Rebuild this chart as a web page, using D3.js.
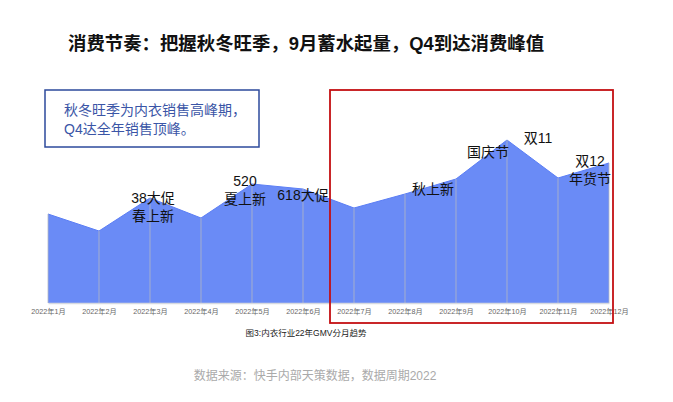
<!DOCTYPE html>
<html>
<head>
<meta charset="utf-8">
<script src="https://cdn.jsdelivr.net/npm/d3@7"></script>
<style>
  body { margin: 0; background: #fff; }
  svg { font-family: "Liberation Sans", "Noto Sans CJK SC", sans-serif; }
</style>
</head>
<body>
<div id="chart"></div>
<script>
// 月份与GMV（相对值，按图估读）
const months = ['2022年1月', '2022年2月', '2022年3月', '2022年4月', '2022年5月', '2022年6月',
                '2022年7月', '2022年8月', '2022年9月', '2022年10月', '2022年11月', '2022年12月']
const gmv = [89, 72, 105, 85, 119, 114, 95, 109, 124, 163, 125, 140]

// 节点标注
const notes = [
  { month: '2022年3月', lines: ['38大促', '春上新'], dx: 3, dy: 5 },
  { month: '2022年5月', lines: ['520', '夏上新'], dx: -7, dy: 2 },
  { month: '2022年6月', lines: ['618大促'], dx: 0, dy: 11 },
  { month: '2022年8月', lines: ['秋上新'], dx: 28, dy: 0 },
  { month: '2022年10月', lines: ['国庆节'], dx: -19, dy: 17 },
  { month: '2022年11月', lines: ['双11'], dx: -20, dy: -35 },
  { month: '2022年12月', lines: ['双12', '年货节'], dx: -19, dy: 3 }
]

const width = 673, height = 402
const svg = d3.select('#chart').append('svg')
  .attr('width', width)
  .attr('height', height)

// 标题
svg.append('text')
  .attr('x', 68).attr('y', 50)
  .attr('font-size', 18.4).attr('font-weight', 'bold').attr('fill', '#111')
  .text('消费节奏：把握秋冬旺季，9月蓄水起量，Q4到达消费峰值')

const x = d3.scalePoint().domain(months).range([48, 609])
const y = d3.scaleLinear().domain([0, 180]).range([303, 123])

// 面积
const area = d3.area()
  .x((d, i) => x(months[i]))
  .y0(y(0))
  .y1(d => y(d))
svg.append('path')
  .datum(gmv)
  .attr('d', area)
  .attr('fill', '#6a8bf6')

svg.append('path')
  .datum(gmv)
  .attr('d', d3.line().x((d, i) => x(months[i])).y(d => y(d)))
  .attr('fill', 'none')
  .attr('stroke', '#5b7ef5')
  .attr('stroke-width', 1)

// 竖向网格线
svg.selectAll('.grid')
  .data(gmv)
  .enter()
  .append('line')
    .attr('x1', (d, i) => x(months[i])).attr('x2', (d, i) => x(months[i]))
    .attr('y1', d => y(d)).attr('y2', y(0))
    .attr('stroke', '#b4b8c4').attr('stroke-width', 0.8)

// x轴
const xAxis = svg.append('g')
  .attr('transform', `translate(0,${y(0)})`)
  .call(d3.axisBottom(x).tickSize(0).tickPadding(6))
xAxis.select('.domain').attr('stroke', '#d6d9e0').attr('stroke-width', 1.5)
xAxis.selectAll('text')
  .attr('font-size', 7.2).attr('fill', '#666')
  .attr('font-family', '"Liberation Sans", "Noto Sans CJK SC", sans-serif')

// 标注
notes.forEach(n => {
  const i = months.indexOf(n.month)
  const t = svg.append('text')
    .attr('text-anchor', 'middle')
    .attr('font-size', 14).attr('fill', '#111')
  n.lines.forEach((l, k) => {
    t.append('tspan')
      .attr('x', x(n.month) + n.dx)
      .attr('y', y(gmv[i]) + n.dy + k * 17.5)
      .text(l)
  })
})

// 左上说明框
svg.append('rect')
  .attr('x', 45).attr('y', 90).attr('width', 214).attr('height', 57)
  .attr('fill', 'none').attr('stroke', '#2d4a9c').attr('stroke-width', 1.5)
const info = svg.append('text').attr('font-size', 14).attr('fill', '#3a55a6')
info.append('tspan').attr('x', 64).attr('y', 115).text('秋冬旺季为内衣销售高峰期，')
info.append('tspan').attr('x', 64).attr('y', 134).text('Q4达全年销售顶峰。')

// 红框
svg.append('rect')
  .attr('x', 330).attr('y', 90).attr('width', 283).attr('height', 233)
  .attr('fill', 'none').attr('stroke', '#c40f12').attr('stroke-width', 1.8)

// 图注
svg.append('text')
  .attr('x', 306).attr('y', 336).attr('text-anchor', 'middle')
  .attr('font-size', 8.5).attr('fill', '#222')
  .text('图3:内衣行业22年GMV分月趋势')

svg.append('text')
  .attr('x', 315).attr('y', 380).attr('text-anchor', 'middle')
  .attr('font-size', 12).attr('fill', '#aaa')
  .text('数据来源：快手内部天策数据，数据周期2022')
</script>
</body>
</html>
